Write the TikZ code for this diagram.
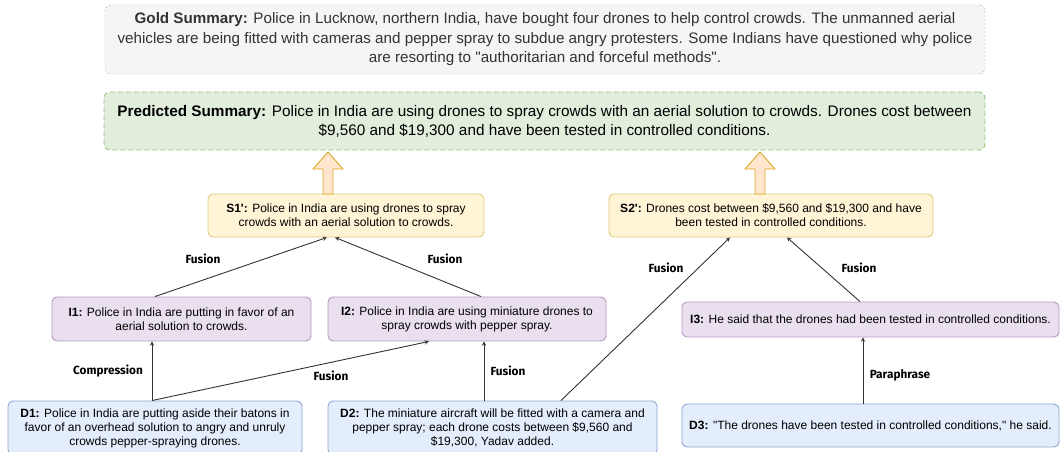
\documentclass[tikz,border=0pt]{standalone}
\usepackage{fontspec}
\setmainfont{Liberation Sans}
\newfontfamily\tagfont{Fira Sans}
\usetikzlibrary{arrows,positioning}
\definecolor{goldfill}{HTML}{F5F5F5}
\definecolor{goldline}{HTML}{A6A6A6}
\definecolor{predfill}{HTML}{E2EEDC}
\definecolor{predline}{HTML}{97C27F}
\definecolor{sfill}{HTML}{FFF4D6}
\definecolor{sline}{HTML}{E3CB7E}
\definecolor{ifill}{HTML}{E9DFEE}
\definecolor{iline}{HTML}{B49AC2}
\definecolor{dfill}{HTML}{E3EDFC}
\definecolor{dline}{HTML}{8DA7D2}
\definecolor{upfill}{HTML}{FFE6CC}
\definecolor{upline}{HTML}{E0A42A}
\definecolor{edgegray}{HTML}{333333}
\tikzstyle{arrow} = [line width=0.9pt,->,>=stealth,color=edgegray]
\tikzstyle{sumbox} = [rounded corners=6pt, align=center, inner sep=0pt]
\tikzstyle{sentbox} = [rounded corners=5pt, line width=0.9pt, align=center, inner sep=0pt,
  font=\fontsize{12}{14}\selectfont]
\tikzstyle{oplabel} = [font=\tagfont\bfseries\fontsize{11.8}{13}\selectfont]
\newcommand{\dq}{\textquotedbl}
\newcommand{\sq}{\textquotesingle}

\begin{document}
\begin{tikzpicture}[x=1pt, y=-1pt]
\useasboundingbox (0,0) rectangle (1061,452);
% Summaries
\node[sumbox, draw=goldline, fill=goldfill, dash pattern=on 2pt off 2pt, text=edgegray,
  minimum width=880, minimum height=69, font=\fontsize{15.2}{19.5}\selectfont] (gold) at (545,39.5)
  {\textbf{Gold Summary:} Police in Lucknow, northern India, have bought four drones to help control crowds. The unmanned aerial\\
  vehicles are being fitted with cameras and pepper spray to subdue angry protesters. Some Indians have questioned why police\\
  are resorting to \dq authoritarian and forceful methods\dq.};
\node[sumbox, draw=predline, fill=predfill, dash pattern=on 5pt off 3pt, line width=0.9pt,
  minimum width=881, minimum height=58, font=\fontsize{15.3}{19}\selectfont] (pred) at (544.5,121)
  {\textbf{Predicted Summary:} Police in India are using drones to spray crowds with an aerial solution to crowds. Drones cost between\\
  \$9,560 and \$19,300 and have been tested in controlled conditions.};

% Sentences
\node[sentbox, draw=sline, fill=sfill, minimum width=276, minimum height=43] (s1) at (346,215.5)
  {\textbf{S1\sq:} Police in India are using drones to spray\\ crowds with an aerial solution to crowds.};
\node[sentbox, draw=sline, fill=sfill, minimum width=324, minimum height=43] (s2) at (771,215.5)
  {\textbf{S2\sq:} Drones cost between \$9,560 and \$19,300 and have\\ been tested in controlled conditions.};
\node[sentbox, draw=iline, fill=ifill, minimum width=259, minimum height=44] (i1) at (181.5,319)
  {\textbf{I1:} Police in India are putting in favor of an\\ aerial solution to crowds.};
\node[sentbox, draw=iline, fill=ifill, minimum width=278, minimum height=44] (i2) at (467,319)
  {\textbf{I2:} Police in India are using miniature drones to\\ spray crowds with pepper spray.};
\node[sentbox, draw=iline, fill=ifill, minimum width=377, minimum height=35] (i3) at (870.5,319.5)
  {\textbf{I3:} He said that the drones had been tested in controlled conditions.};
\node[sentbox, draw=dline, fill=dfill, minimum width=294, minimum height=54] (d1) at (155,428)
  {\textbf{D1:} Police in India are putting aside their batons in\\ favor of an overhead solution to angry and unruly\\ crowds pepper-spraying drones.};
\node[sentbox, draw=dline, fill=dfill, minimum width=329, minimum height=54] (d2) at (492.5,428)
  {\textbf{D2:} The miniature aircraft will be fitted with a camera and\\ pepper spray; each drone costs between \$9,560 and\\ \$19,300, Yadav added.};
\node[sentbox, draw=dline, fill=dfill, minimum width=377, minimum height=43] (d3) at (870.5,425.5)
  {\textbf{D3:} \dq The drones have been tested in controlled conditions,\dq{} he said.};

% Block arrows
\draw[upline, fill=upfill, line width=0.9pt] (323,194) -- (323,169) -- (313,169) -- (328,152)
  -- (343,169) -- (333,169) -- (333,194) -- cycle;
\draw[upline, fill=upfill, line width=0.9pt] (755,194) -- (755,169) -- (745,169) -- (760,152)
  -- (775,169) -- (765,169) -- (765,194) -- cycle;

% Connectors
\draw[arrow] ([xshift=-26.5]i1.north) -- ([xshift=-19]s1.south);
\draw[arrow] ([xshift=14]i2.north) -- ([xshift=-11]s1.south);
\draw[arrow] ([xshift=-3]d1.north) -- ([xshift=-29.5]i1.south);
\draw[arrow] ([xshift=-3]d1.north) -- ([xshift=-38]i2.south);
\draw[arrow] ([xshift=-8.5]d2.north) -- ([xshift=17]i2.south);
\draw[arrow] ([xshift=68.5]d2.north) -- ([xshift=-41]s2.south);
\draw[arrow] ([xshift=-10.5]i3.north) -- ([xshift=16]s2.south);
\draw[arrow] ([xshift=-7.5]d3.north) -- ([xshift=-7.5]i3.south);

% Operation labels
\node[oplabel] (fus1) at (203,259) {Fusion};
\node[oplabel] (fus2) at (445,259) {Fusion};
\node[oplabel] (comp) at (108,371) {Compression};
\node[oplabel] (fus3) at (331,376) {Fusion};
\node[oplabel] (fus4) at (508,371) {Fusion};
\node[oplabel] (fus5) at (666,268) {Fusion};
\node[oplabel] (fus6) at (859,268) {Fusion};
\node[oplabel] (para) at (900,375) {Paraphrase};
\end{tikzpicture}
\end{document}
